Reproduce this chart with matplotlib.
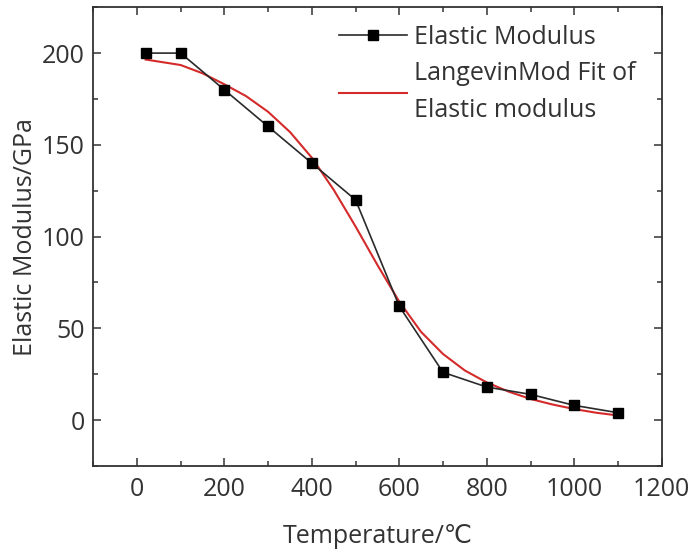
import numpy as np
import matplotlib.pyplot as plt

"""Dados medidos"""
temp = [20, 100, 200, 300, 400, 500, 600, 700, 800, 900, 1000, 1100]
modulus = [200, 200, 180, 160, 140, 120, 62, 26, 18, 14, 8, 4]

"""Curva ajustada (LangevinMod), lida do gráfico"""
fit_t = [20, 100, 150, 200, 250, 300, 350, 400, 450, 500, 550, 600,
         650, 700, 750, 800, 850, 900, 950, 1000, 1050, 1100]
fit_e = [196.5, 193.5, 189, 183, 176.5, 168, 157, 143, 125.5, 105.5, 84.5, 64.5,
         48, 36, 27, 20.5, 15.5, 11.5, 8.5, 6, 4, 2.5]

plt.rcParams['font.family'] = ['Open Sans', 'DejaVu Sans']
fs = 18

fig = plt.figure(figsize=(6.9, 5.56), dpi=100)
ax = fig.add_axes([0.135, 0.162, 0.824, 0.825])

ax.plot(fit_t, fit_e, color='#d42a2a', lw=1.5, label='LangevinMod Fit of\nElastic modulus', zorder=2)
ax.plot(temp, modulus, color='#2a2a2a', lw=1.2, marker='s', ms=7, mfc='black', mec='black',
        label='Elastic Modulus', zorder=3)

ax.set_xlim(-100, 1200)
ax.set_ylim(-25, 225)
ax.set_xticks(np.arange(0, 1201, 200))
ax.set_xticks(np.arange(-100, 1201, 100), minor=True)
ax.set_yticks(np.arange(0, 201, 50))
ax.set_yticks(np.arange(-25, 226, 25), minor=True)

ax.tick_params(which='both', direction='in', top=True, right=True, colors='#333333',
               labelcolor='#333333', labelsize=fs, width=1.1)
ax.tick_params(which='major', length=6)
ax.tick_params(which='minor', length=3.5)
ax.tick_params(axis='x', which='major', pad=8)
ax.tick_params(axis='y', which='major', pad=6)
for s in ax.spines.values():
    s.set_linewidth(1.3)
    s.set_color('#333333')

ax.set_xlabel('Temperature/℃', fontsize=fs, color='#333333', labelpad=16)
ax.set_ylabel('Elastic Modulus/GPa', fontsize=fs, color='#333333', labelpad=3)

h, l = ax.get_legend_handles_labels()
leg = ax.legend(h[::-1], l[::-1], loc='upper right', bbox_to_anchor=(0.955, 0.962), frameon=False,
                fontsize=fs, handlelength=2.7, handletextpad=0.3, labelspacing=0.45,
                borderpad=0, borderaxespad=0)
for t in leg.get_texts():
    t.set_color('#333333')
    t.set_linespacing(1.65)

fig.savefig('out.png', dpi=100)
